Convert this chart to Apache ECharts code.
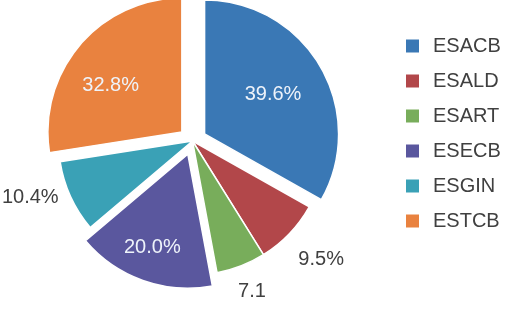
<!DOCTYPE html>
<html>
<head>
<meta charset="utf-8">
<script src="https://cdn.jsdelivr.net/npm/echarts@6/dist/echarts.min.js"></script>
<style>
  html, body { margin: 0; padding: 0; background: #fff; }
  #chart { width: 506px; height: 312px; }
</style>
</head>
<body>
<div id="chart"></div>
<script>
// 데이터
const categories = ['ESACB', 'ESALD', 'ESART', 'ESECB', 'ESGIN', 'ESTCB']
const values = [39.6, 9.5, 7.1, 20.0, 10.4, 32.8]
const labelTexts = ['39.6%', '9.5%', '7.1', '20.0%', '10.4%', '32.8%']

// 스타일
const colors = ['#3a78b5', '#b2474a', '#78ad5b', '#5a579e', '#3aa1b6', '#e9823f']
const exploded = ['ESACB', 'ESECB', 'ESTCB']
const labelShift = [[8, -4], [9, 26], [-3, 26], [-12, 27], [-12, 1], [-18, -1]]

const FONT = '"Liberation Sans", Arial, sans-serif'

const chart = echarts.init(document.getElementById('chart'))

const data = categories.map((name, i) => {
  const inside = exploded.includes(name)
  return {
    name,
    value: values[i],
    selected: inside,
    label: inside
      ? { position: 'inside', color: '#eef3fa' }
      : { position: 'outside', color: '#404040' },
    labelLine: { show: false, length: 0, length2: 0 }
  }
})

chart.setOption({
  animation: false,
  color: colors,
  legend: {
    orient: 'vertical',
    left: 404,
    top: 36,
    padding: 0,
    icon: 'rect',
    itemWidth: 15,
    itemHeight: 15,
    itemGap: 15,
    selectedMode: false,
    textStyle: {
      fontFamily: FONT,
      fontSize: 20,
      color: '#404040',
      padding: [0, 0, 0, 8]
    }
  },
  series: [
    {
      type: 'pie',
      center: [192.5, 141],
      radius: 134,
      startAngle: 90,
      clockwise: true,
      selectedMode: 'multiple',
      selectedOffset: 14,
      avoidLabelOverlap: false,
      itemStyle: { borderColor: '#fff', borderWidth: 1.5 },
      label: {
        fontFamily: FONT,
        fontSize: 20,
        distanceToLabelLine: 0,
        formatter: p => labelTexts[p.dataIndex]
      },
      emphasis: { disabled: true },
      labelLayout: p => ({ dx: labelShift[p.dataIndex][0], dy: labelShift[p.dataIndex][1] }),
      data
    }
  ]
})
</script>
</body>
</html>
